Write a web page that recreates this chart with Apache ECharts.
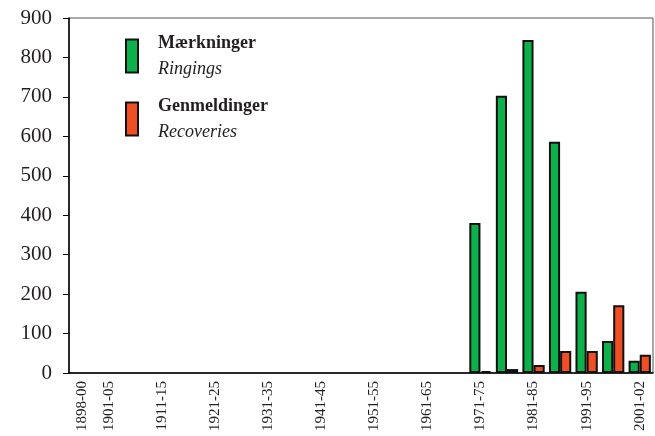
<!DOCTYPE html>
<html>
<head>
<meta charset="utf-8">
<script src="https://cdn.jsdelivr.net/npm/echarts@6/dist/echarts.min.js"></script>
<style>
  html, body { margin: 0; padding: 0; background: #fff; }
  #main { width: 655px; height: 436px; }
</style>
</head>
<body>
<div id="main"></div>
<script>
// perioder
var categories = ['1898-00', '1901-05', '1906-10', '1911-15', '1916-20', '1921-25', '1926-30',
  '1931-35', '1936-40', '1941-45', '1946-50', '1951-55', '1956-60', '1961-65', '1966-70',
  '1971-75', '1976-80', '1981-85', '1986-90', '1991-95', '1996-00', '2001-02'];
// mærkninger (ringings)
var ringings = [null, null, null, null, null, null, null, null, null, null, null, null, null,
  null, null, 380, 703, 844, 586, 206, 81, 31];
// genmeldinger (recoveries)
var recoveries = [null, null, null, null, null, null, null, null, null, null, null, null, null,
  null, null, 5, 10, 20, 56, 56, 172, 46];
var seriesNames = ['Mærkninger', 'Genmeldinger'];
var subNames = ['Ringings', 'Recoveries'];
var yTicks = [0, 100, 200, 300, 400, 500, 600, 700, 800, 900];

var serif = '"Liberation Serif", "Times New Roman", serif';
var ink = '#231f20';

var myChart = echarts.init(document.getElementById('main'));
myChart.setOption({
    animation: false,
    grid: {
        left: 69, right: 2, top: 18, bottom: 63,
        show: true, borderColor: '#555', borderWidth: 1
    },
    legend: {
        data: seriesNames,
        orient: 'vertical',
        left: 125,
        top: 34,
        padding: 0,
        itemGap: 19,
        itemWidth: 12,
        itemHeight: 33,
        icon: 'rect',
        selectedMode: false,
        formatter: function (name) {
            var i = seriesNames.indexOf(name);
            return '{a|' + name + '}\n{b|' + subNames[i] + '}';
        },
        textStyle: {
            rich: {
                a: { fontFamily: serif, fontWeight: 'bold', fontSize: 18, lineHeight: 26, color: ink, padding: [0, 0, 0, 15] },
                b: { fontFamily: serif, fontStyle: 'italic', fontSize: 18, lineHeight: 26, color: ink, padding: [0, 0, 0, 15] }
            }
        }
    },
    xAxis: {
        type: 'category',
        data: categories,
        axisLine: { lineStyle: { color: '#000', width: 1.5 } },
        axisTick: { interval: 0, length: 5, lineStyle: { color: '#000', width: 1 } },
        axisLabel: {
            rotate: 90,
            margin: 8,
            fontFamily: serif,
            fontSize: 15,
            color: ink,
            interval: function (idx) { return idx === 0 || idx % 2 === 1; }
        }
    },
    yAxis: {
        type: 'value',
        min: yTicks[0],
        max: yTicks[yTicks.length - 1],
        interval: 100,
        splitLine: { show: false },
        axisLine: { show: true, lineStyle: { color: '#000', width: 1.5 } },
        axisTick: { show: true, length: 6, lineStyle: { color: '#000', width: 1 } },
        axisLabel: { margin: 17, fontFamily: serif, fontSize: 21, color: ink, padding: [4, 0, 0, 0] }
    },
    series: [{
        name: seriesNames[0],
        type: 'bar',
        data: ringings,
        barGap: '0%',
        barCategoryGap: '16%',
        itemStyle: { color: '#0db14b', borderColor: '#111', borderWidth: 2 }
    }, {
        name: seriesNames[1],
        type: 'bar',
        data: recoveries,
        itemStyle: { color: '#f04e23', borderColor: '#111', borderWidth: 2 }
    }]
});
</script>
</body>
</html>
